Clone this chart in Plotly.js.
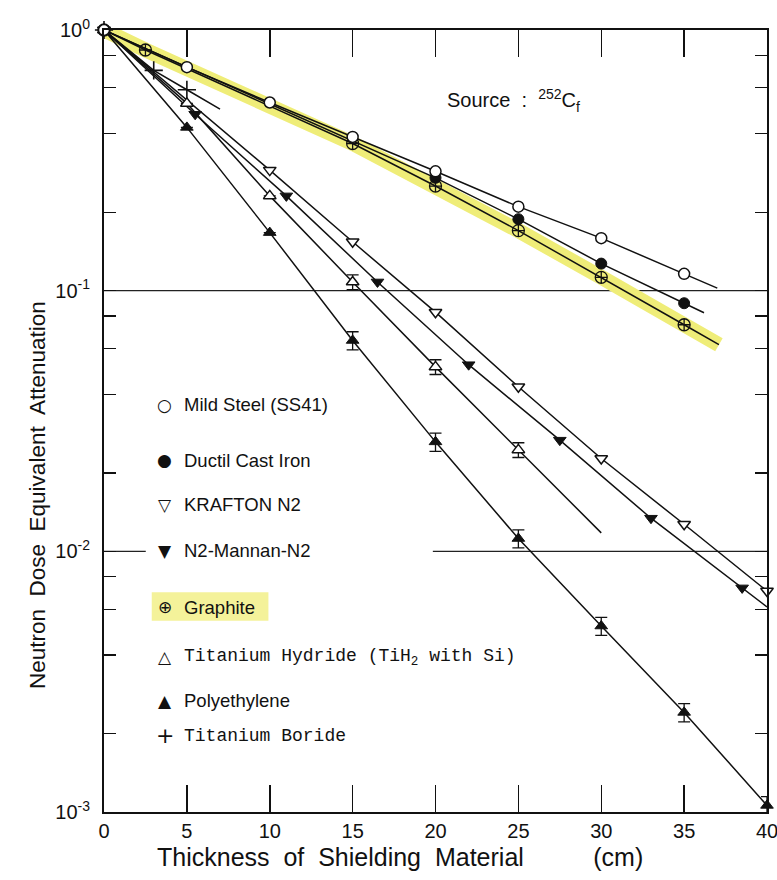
<!DOCTYPE html>
<html>
<head>
<meta charset="utf-8">
<script src="https://cdn.plot.ly/plotly-3.0.1.min.js"></script>
<style>body{margin:0;background:#fff}#chart{width:777px;height:880px}</style>
</head>
<body>
<div id="chart"></div>
<script>
// ---- data ----
const seriesNames = ["Mild Steel (SS41)", "Ductil Cast Iron", "KRAFTON N2", "N2-Mannan-N2",
  "Graphite", "Titanium Hydride (TiH2 with Si)", "Polyethylene", "Titanium Boride"];

const xMild = [0, 5, 10, 15, 20, 25, 30, 35];
const yMild = [1, 0.72, 0.527, 0.389, 0.287, 0.21, 0.159, 0.116];

const xDuct = [0, 20, 25, 30, 35];
const yDuct = [1, 0.271, 0.188, 0.127, 0.0895];

const xKraf = [0, 10, 15, 20, 25, 30, 35, 40];
const yKraf = [1, 0.29, 0.154, 0.0827, 0.0428, 0.0227, 0.0127, 0.00704];

const xMann = [0, 5.5, 11, 16.5, 22, 27.5, 33, 38.5];
const yMann = [1, 0.475, 0.231, 0.108, 0.052, 0.0267, 0.0134, 0.00724];

const xGraph = [0, 2.5, 15, 20, 25, 30, 35];
const yGraph = [1, 0.838, 0.367, 0.252, 0.17, 0.1125, 0.074];

const xHyd = [0, 5, 10, 15, 20, 25];
const yHyd = [1, 0.523, 0.231, 0.108, 0.051, 0.0245];
const hydErrPct = [0, 0, 0, 6.5, 6.5, 6.5];

const xPoly = [0, 5, 10, 15, 20, 25, 30, 35, 40];
const yPoly = [1, 0.423, 0.167, 0.0644, 0.0263, 0.0112, 0.00517, 0.00241, 0.00106];
const polyErrPct = [0, 0, 0, 8, 8, 8, 8, 8, 8];

const xBor = [0, 3, 5];
const yBor = [1, 0.70, 0.59];

// x where each drawn fit line stops
const lineEnds = [37, 36.2, 40, 40, 37.1, 30, 40, 7];

const xTickVals = [0, 5, 10, 15, 20, 25, 30, 35, 40];
const yTickVals = [0.001, 0.01, 0.1, 1];
const yTickText = ["10<sup>-3</sup>", "10<sup>-2</sup>", "10<sup>-1</sup>", "10<sup>0</sup>"];
const yMinorVals = [0.002, 0.004, 0.006, 0.008, 0.02, 0.04, 0.06, 0.08, 0.2, 0.4, 0.6, 0.8];

// ---- helpers ----
function extend(xs, ys, xEnd) {
  const n = xs.length;
  const X = xs.slice(), Y = ys.slice();
  if (xEnd > xs[n - 1]) {
    const k = Math.log(ys[n - 1] / ys[n - 2]) / (xs[n - 1] - xs[n - 2]);
    X.push(xEnd);
    Y.push(ys[n - 1] * Math.exp(k * (xEnd - xs[n - 1])));
  }
  return [X, Y];
}

const seriesX = [xMild, xDuct, xKraf, xMann, xGraph, xHyd, xPoly, xBor];
const seriesY = [yMild, yDuct, yKraf, yMann, yGraph, yHyd, yPoly, yBor];
const markerStyles = [
  {symbol: "circle", size: 11, color: "#fff", line: {color: "#111", width: 1.5}},
  {symbol: "circle", size: 11, color: "#111", line: {color: "#111", width: 1}},
  {symbol: "triangle-down", size: 11, color: "#fff", line: {color: "#111", width: 1.5}},
  {symbol: "triangle-down", size: 11, color: "#111", line: {color: "#111", width: 1}},
  {symbol: "circle-cross-open", size: 12, color: "#111", line: {color: "#111", width: 1.3}},
  {symbol: "triangle-up", size: 11, color: "#fff", line: {color: "#111", width: 1.5}},
  {symbol: "triangle-up", size: 11, color: "#111", line: {color: "#111", width: 1}},
  {symbol: "cross-thin-open", size: 13, color: "#111", line: {color: "#111", width: 1.6}}
];
const errPct = [null, null, null, null, null, hydErrPct, polyErrPct, null];
// marker drawing order (mild steel on top, so the origin shows an open circle)
const drawOrder = [1, 2, 3, 4, 5, 6, 7, 0];

const traces = [];
// yellow highlight band along graphite
const gExt = extend(xGraph, yGraph, lineEnds[4]);
traces.push({x: gExt[0], y: gExt[1], mode: "lines", line: {color: "#efed78", width: 15},
  hoverinfo: "skip", cliponaxis: false});

for (let i = 0; i < seriesX.length; i++) {
  const e = extend(seriesX[i], seriesY[i], lineEnds[i]);
  traces.push({x: e[0], y: e[1], mode: "lines", line: {color: "#111", width: 1.5},
    hoverinfo: "skip", cliponaxis: false});
}
for (const i of drawOrder) {
  const t = {x: seriesX[i], y: seriesY[i], mode: "markers", name: seriesNames[i],
    marker: markerStyles[i], cliponaxis: false};
  if (errPct[i]) {
    t.error_y = {type: "data", symmetric: true,
      array: seriesY[i].map((v, j) => v * errPct[i][j] / 100),
      color: "#111", thickness: 1.3, width: 6};
  }
  traces.push(t);
}

// ---- legend (drawn as annotations, as in the original) ----
const legendGlyphs = ["\u25CB", "\u25CF", "\u25BD", "\u25BC", "\u2295", "\u25B3", "\u25B2", "+"];
const legendTexts = ["Mild Steel (SS41)", "Ductil Cast Iron", "KRAFTON N2", "N2-Mannan-N2",
  "Graphite", "Titanium Hydride (TiH<sub>2</sub> with Si)", "Polyethylene", "Titanium Boride"];
const legendY = [0.5205, 0.450, 0.3926, 0.3338, 0.2621, 0.1982, 0.1423, 0.0972];
const legendMono = [false, false, false, false, false, true, false, true];

const annotations = [];
for (let i = 0; i < legendTexts.length; i++) {
  annotations.push({xref: "paper", yref: "paper", x: 0.092, y: legendY[i], xanchor: "center",
    yanchor: "middle", showarrow: false, text: legendGlyphs[i],
    font: {family: "DejaVu Sans", size: i === 7 ? 22 : 17, color: "#111"}});
  annotations.push({xref: "paper", yref: "paper", x: 0.1175, y: legendY[i], xanchor: "left",
    yanchor: "middle", showarrow: false, text: legendTexts[i],
    font: legendMono[i] ? {family: "Liberation Mono, DejaVu Sans Mono, monospace", size: 18, color: "#111"}
                        : {family: "Liberation Sans, Arial, sans-serif", size: 18.5, color: "#111"}});
}
annotations.push({xref: "paper", yref: "paper", x: 0.618, y: 0.910, xanchor: "center", yanchor: "middle",
  showarrow: false, text: "Source\u00a0 :\u00a0 <sup>252</sup>C<sub>f</sub>",
  font: {family: "Liberation Sans, Arial, sans-serif", size: 20, color: "#111"}});
annotations.push({xref: "paper", yref: "paper", x: 0.4465, y: -0.058, xanchor: "center", yanchor: "middle",
  showarrow: false,
  text: "Thickness\u00a0 of\u00a0 Shielding\u00a0 Material\u00a0\u00a0\u00a0\u00a0\u00a0\u00a0\u00a0\u00a0\u00a0 (cm)",
  font: {family: "Liberation Sans, Arial, sans-serif", size: 25, color: "#111"}});
annotations.push({xref: "paper", yref: "paper", x: -0.1, y: 0.405, xanchor: "center", yanchor: "middle",
  showarrow: false, textangle: -90,
  text: "Neutron\u00a0 Dose\u00a0 Equivalent\u00a0 Attenuation",
  font: {family: "Liberation Sans, Arial, sans-serif", size: 22.5, color: "#111"}});

const layout = {
  width: 777, height: 880,
  margin: {l: 104, r: 10, t: 30, b: 68},
  paper_bgcolor: "#fff", plot_bgcolor: "#fff",
  showlegend: false,
  font: {family: "Liberation Sans, Arial, sans-serif", size: 18, color: "#111"},
  xaxis: {range: [0, 40], tickvals: xTickVals, ticks: "inside", ticklen: 27, tickwidth: 1.5,
    tickcolor: "#111", mirror: "ticks", showline: true, linewidth: 2, linecolor: "#111",
    showgrid: false, zeroline: false, tickfont: {size: 20}, ticklabeloverflow: "allow",
    fixedrange: true},
  yaxis: {type: "log", range: [-3, 0], tickvals: yTickVals, ticktext: yTickText,
    ticks: "inside", ticklen: 12, tickwidth: 1.3, tickcolor: "#111", mirror: "ticks",
    showline: true, linewidth: 2, linecolor: "#111", showgrid: false, zeroline: false,
    tickfont: {size: 20}, ticklabelstandoff: 8, ticklabeloverflow: "allow",
    minor: {tickvals: yMinorVals, ticks: "inside", ticklen: 12, tickwidth: 1.3, tickcolor: "#111", showgrid: false}},
  shapes: [
    {type: "line", xref: "paper", yref: "paper", x0: 0, x1: 1, y0: 2 / 3, y1: 2 / 3, layer: "below",
      line: {color: "#222", width: 1.3}},
    {type: "line", xref: "paper", yref: "paper", x0: 0, x1: 0.063, y0: 1 / 3, y1: 1 / 3, layer: "below",
      line: {color: "#222", width: 1.3}},
    {type: "line", xref: "paper", yref: "paper", x0: 0.496, x1: 1, y0: 1 / 3, y1: 1 / 3, layer: "below",
      line: {color: "#222", width: 1.3}},
    {type: "rect", xref: "paper", yref: "paper", x0: 0.072, x1: 0.248, y0: 0.2446, y1: 0.281, layer: "below",
      line: {width: 0}, fillcolor: "#f4f29a"}
  ],
  annotations: annotations
};

Plotly.newPlot("chart", traces, layout, {displayModeBar: false, staticPlot: true});
</script>
</body>
</html>
